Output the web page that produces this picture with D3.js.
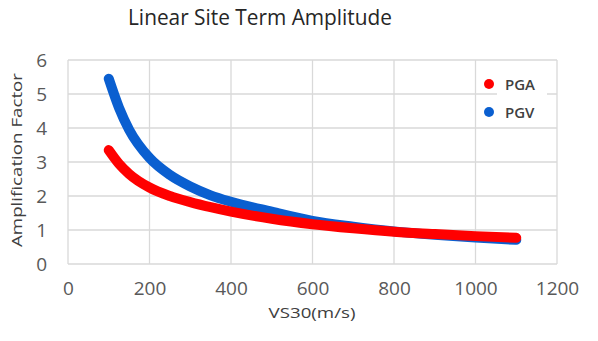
<!DOCTYPE html>
<html lang="en">
<head>
    <meta charset="UTF-8">
    <title>Linear Site Term Amplitude</title>
    <script src="https://d3js.org/d3.v7.min.js"></script>
    <style>
        body { margin: 0; background: #fff; }
        text { font-family: "Open Sans", "Noto Sans", sans-serif; }
    </style>
</head>
<body>
<div id="chart"></div>
<script>

    // data
    const vs30 = [100, 125, 150, 200, 250, 300, 350, 400, 500, 600, 700, 800, 900, 1000, 1100]
    const pga  = [3.35, 2.95, 2.65, 2.25, 2.00, 1.82, 1.67, 1.54, 1.33, 1.17, 1.05, 0.95, 0.88, 0.82, 0.77]
    const pgv  = [5.45, 4.60, 3.95, 3.12, 2.62, 2.28, 2.02, 1.83, 1.54, 1.27, 1.10, 0.96, 0.86, 0.78, 0.71]
    const xTicks = [0, 200, 400, 600, 800, 1000, 1200]
    const yTicks = [0, 1, 2, 3, 4, 5, 6]
    const seriesNames = ["PGA", "PGV"]
    const colors = ["#ff0000", "#0a5fd0"]

    const W = 598, H = 341
    const MARGIN = { LEFT: 68, RIGHT: 41, TOP: 60, BOTTOM: 77 }
    const WIDTH = W - MARGIN.LEFT - MARGIN.RIGHT
    const HEIGHT = H - MARGIN.TOP - MARGIN.BOTTOM

    const svg = d3.select("#chart").append("svg")
        .attr("width", W)
        .attr("height", H)

    const g = svg.append("g")
        .attr("transform", `translate(${MARGIN.LEFT}, ${MARGIN.TOP})`)

    const x = d3.scaleLinear().domain([0, 1200]).range([0, WIDTH])
    const y = d3.scaleLinear().domain([0, 6]).range([HEIGHT, 0])

    // grid
    g.selectAll(".hgrid").data(yTicks).enter().append("line")
        .attr("x1", 0).attr("x2", WIDTH)
        .attr("y1", d => y(d)).attr("y2", d => y(d))
        .attr("stroke", "#d9d9d9").attr("stroke-width", 1.3)
    g.selectAll(".vgrid").data(xTicks).enter().append("line")
        .attr("y1", 0).attr("y2", HEIGHT)
        .attr("x1", d => x(d)).attr("x2", d => x(d))
        .attr("stroke", "#d9d9d9").attr("stroke-width", 1.3)

    // axes (labels only)
    const xAxis = g.append("g")
        .attr("transform", `translate(0, ${HEIGHT})`)
        .call(d3.axisBottom(x).tickValues(xTicks).tickFormat(d3.format("d")).tickSize(0).tickPadding(18))
    xAxis.select(".domain").remove()
    xAxis.selectAll("text").attr("font-size", "19px").attr("fill", "#595959")
        .attr("font-family", "'Open Sans', sans-serif")

    const yAxis = g.append("g")
        .call(d3.axisLeft(y).tickValues(yTicks).tickFormat(d3.format("d")).tickSize(0).tickPadding(21))
    yAxis.select(".domain").remove()
    yAxis.selectAll("text").attr("font-size", "19px").attr("fill", "#595959")
        .attr("font-family", "'Open Sans', sans-serif")

    // curves
    const line = d3.line()
        .x(d => x(d[0]))
        .y(d => y(d[1]))
        .curve(d3.curveMonotoneX)

    const seriesVals = [pga, pgv]
    // blue first so red sits on top
    ;[1, 0].forEach(i => {
        g.append("path")
            .datum(vs30.map((v, j) => [v, seriesVals[i][j]]))
            .attr("fill", "none")
            .attr("stroke", colors[i])
            .attr("stroke-width", 10)
            .attr("stroke-linecap", "round")
            .attr("stroke-linejoin", "round")
            .attr("d", line)
    })

    // legend
    const legend = g.append("g").attr("transform", `translate(${489 - MARGIN.LEFT}, ${84 - MARGIN.TOP})`)
    seriesNames.forEach((name, i) => {
        legend.append("rect")
            .attr("x", 8).attr("y", i * 28 - 11)
            .attr("width", 50).attr("height", 22)
            .attr("fill", "#fff")
        legend.append("circle")
            .attr("cx", 0).attr("cy", i * 28)
            .attr("r", 5)
            .attr("fill", colors[i])
        legend.append("text")
            .attr("x", 16).attr("y", i * 28 + 5.5)
            .attr("font-size", "15px")
            .attr("font-weight", "600")
            .attr("fill", "#404040")
            .text(name)
    })

    // title
    svg.append("text")
        .attr("x", 260).attr("y", 25)
        .attr("text-anchor", "middle")
        .attr("font-size", "21px")
        .attr("textLength", 264)
        .attr("lengthAdjust", "spacingAndGlyphs")
        .attr("fill", "#262626")
        .text("Linear Site Term Amplitude")

    // x label
    svg.append("text")
        .attr("x", 312).attr("y", 318)
        .attr("text-anchor", "middle")
        .attr("font-size", "15px")
        .attr("textLength", 87)
        .attr("lengthAdjust", "spacingAndGlyphs")
        .attr("fill", "#404040")
        .text("VS30(m/s)")

    // y label
    svg.append("text")
        .attr("transform", "translate(22, 160) rotate(-90)")
        .attr("text-anchor", "middle")
        .attr("font-size", "15px")
        .attr("textLength", 174)
        .attr("lengthAdjust", "spacingAndGlyphs")
        .attr("fill", "#404040")
        .text("Amplification Factor")

</script>
</body>
</html>
